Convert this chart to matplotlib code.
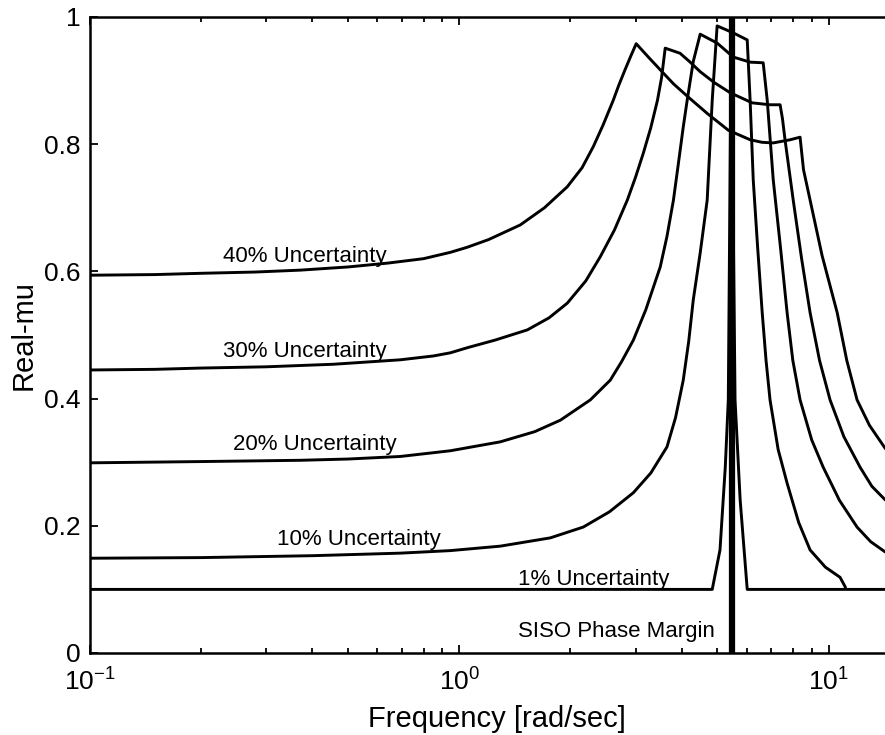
import matplotlib
matplotlib.use("Agg")
import matplotlib.pyplot as plt

plt.rcParams['font.family'] = ['Liberation Sans', 'DejaVu Sans']

# frequency [rad/sec] and real-mu for each uncertainty level
f40 = [0.1, 0.15, 0.199, 0.28, 0.371, 0.5, 0.639, 0.8, 0.946, 1.051, 1.2, 1.462, 1.7, 1.96, 2.15,
       2.305, 2.45, 2.611, 2.7, 2.81, 2.92, 3.013, 3.25, 3.50, 3.8, 4.17, 4.7, 5.35, 6.13, 6.6,
       7.08, 7.87, 8.37, 8.55, 8.91, 9.6, 10.55, 11.2, 11.94, 12.9, 14.22, 16.0]
mu40 = [0.594, 0.595, 0.597, 0.599, 0.602, 0.607, 0.613, 0.620, 0.630, 0.638, 0.650, 0.673, 0.700, 0.733, 0.763,
        0.796, 0.830, 0.869, 0.892, 0.917, 0.940, 0.958, 0.937, 0.917, 0.895, 0.874, 0.848, 0.822, 0.807, 0.803,
        0.802, 0.807, 0.811, 0.760, 0.712, 0.625, 0.535, 0.460, 0.398, 0.358, 0.322, 0.29]

f30 = [0.1, 0.15, 0.199, 0.3, 0.456, 0.692, 0.85, 0.946, 1.051, 1.25, 1.528, 1.75, 1.96, 2.2, 2.408,
       2.63, 2.85, 3.0, 3.15, 3.3, 3.44, 3.53, 3.61, 3.96, 4.2, 4.49, 4.9, 5.41, 6.21, 6.94, 7.39,
       7.5, 7.62, 8.02, 8.45, 8.91, 9.45, 10.09, 11.0, 12.17, 13.1, 14.22, 16.0]
mu30 = [0.445, 0.446, 0.448, 0.450, 0.454, 0.461, 0.467, 0.472, 0.480, 0.492, 0.508, 0.527, 0.550, 0.585, 0.623,
        0.665, 0.712, 0.748, 0.786, 0.826, 0.869, 0.905, 0.951, 0.943, 0.930, 0.914, 0.897, 0.881, 0.865, 0.862, 0.862,
        0.840, 0.807, 0.712, 0.620, 0.535, 0.460, 0.398, 0.340, 0.292, 0.262, 0.241, 0.22]

f20 = [0.1, 0.2, 0.371, 0.5, 0.692, 0.946, 1.291, 1.6, 1.877, 2.264, 2.563, 2.75, 2.96, 3.2, 3.50,
       3.65, 3.80, 3.92, 4.04, 4.14, 4.3, 4.49, 4.99, 5.52, 6.13, 6.65, 6.82, 7.08, 7.4, 7.72, 8.0,
       8.37, 9.0, 9.67, 10.7, 11.94, 13.0, 14.22, 16.0]
mu20 = [0.299, 0.301, 0.303, 0.305, 0.309, 0.318, 0.332, 0.348, 0.366, 0.398, 0.429, 0.458, 0.492, 0.540, 0.607,
        0.655, 0.712, 0.770, 0.827, 0.869, 0.930, 0.973, 0.959, 0.937, 0.929, 0.928, 0.869, 0.744, 0.640, 0.535, 0.460,
        0.398, 0.335, 0.292, 0.240, 0.198, 0.175, 0.159, 0.15]

f10 = [0.1, 0.2, 0.4, 0.692, 0.946, 1.291, 1.763, 2.166, 2.55, 2.96, 3.3, 3.65, 3.85, 4.04, 4.18,
       4.30, 4.49, 4.69, 4.84, 4.99, 5.52, 6.02, 6.13, 6.25, 6.42, 6.61, 6.77, 6.94, 7.3, 7.72, 8.3,
       8.91, 9.8, 10.74, 11.09]
mu10 = [0.149, 0.150, 0.153, 0.157, 0.161, 0.168, 0.181, 0.198, 0.222, 0.252, 0.283, 0.324, 0.370, 0.429, 0.490,
        0.555, 0.629, 0.712, 0.869, 0.986, 0.975, 0.964, 0.869, 0.744, 0.640, 0.535, 0.460, 0.398, 0.320, 0.267, 0.205,
        0.162, 0.135, 0.119, 0.104]

f1 = [0.1, 4.84, 5.08, 5.25, 5.35, 5.45, 5.58, 5.76, 6.02, 16.0]
mu1 = [0.1, 0.1, 0.162, 0.292, 0.398, 0.99, 0.398, 0.241, 0.1, 0.1]

siso_pm = 5.47

labels = ['40% Uncertainty', '30% Uncertainty', '20% Uncertainty', '10% Uncertainty',
          '1% Uncertainty', 'SISO Phase Margin']
label_x = [0.2298, 0.2285, 0.2445, 0.3216, 1.444, 1.444]
label_y = [0.615, 0.465, 0.319, 0.170, 0.107, 0.025]

fig = plt.figure(figsize=(8.85, 7.35), dpi=100)
ax = fig.add_axes([90 / 885, 82 / 735, 814 / 885, 636 / 735])

for f, mu in [(f40, mu40), (f30, mu30), (f20, mu20), (f10, mu10), (f1, mu1)]:
    ax.plot(f, mu, color='k', lw=2.1)
ax.axvline(siso_pm, color='k', lw=4.5)

for txt, x, y in zip(labels, label_x, label_y):
    ax.text(x, y, txt, fontsize=16, ha='left', va='baseline')

ax.set_xscale('log')
ax.set_xlim(0.1, 16.0)
ax.set_ylim(0, 1)
ax.set_yticks([0, 0.2, 0.4, 0.6, 0.8, 1])
ax.set_yticklabels(['0', '0.2', '0.4', '0.6', '0.8', '1'])

ax.spines['right'].set_visible(False)
for s in ['left', 'top', 'bottom']:
    ax.spines[s].set_linewidth(1.8)
ax.tick_params(which='both', direction='in', top=True, right=False, width=1.3,
               labelsize=19)
ax.tick_params(axis='y', pad=7)
ax.tick_params(axis='x', pad=11)
ax.tick_params(which='major', length=6)
ax.tick_params(which='minor', length=3.5)

ax.set_xlabel('Frequency [rad/sec]', fontsize=21, labelpad=7)
ax.set_ylabel('Real-mu', fontsize=21, labelpad=4)

fig.savefig('out.png', dpi=100)
